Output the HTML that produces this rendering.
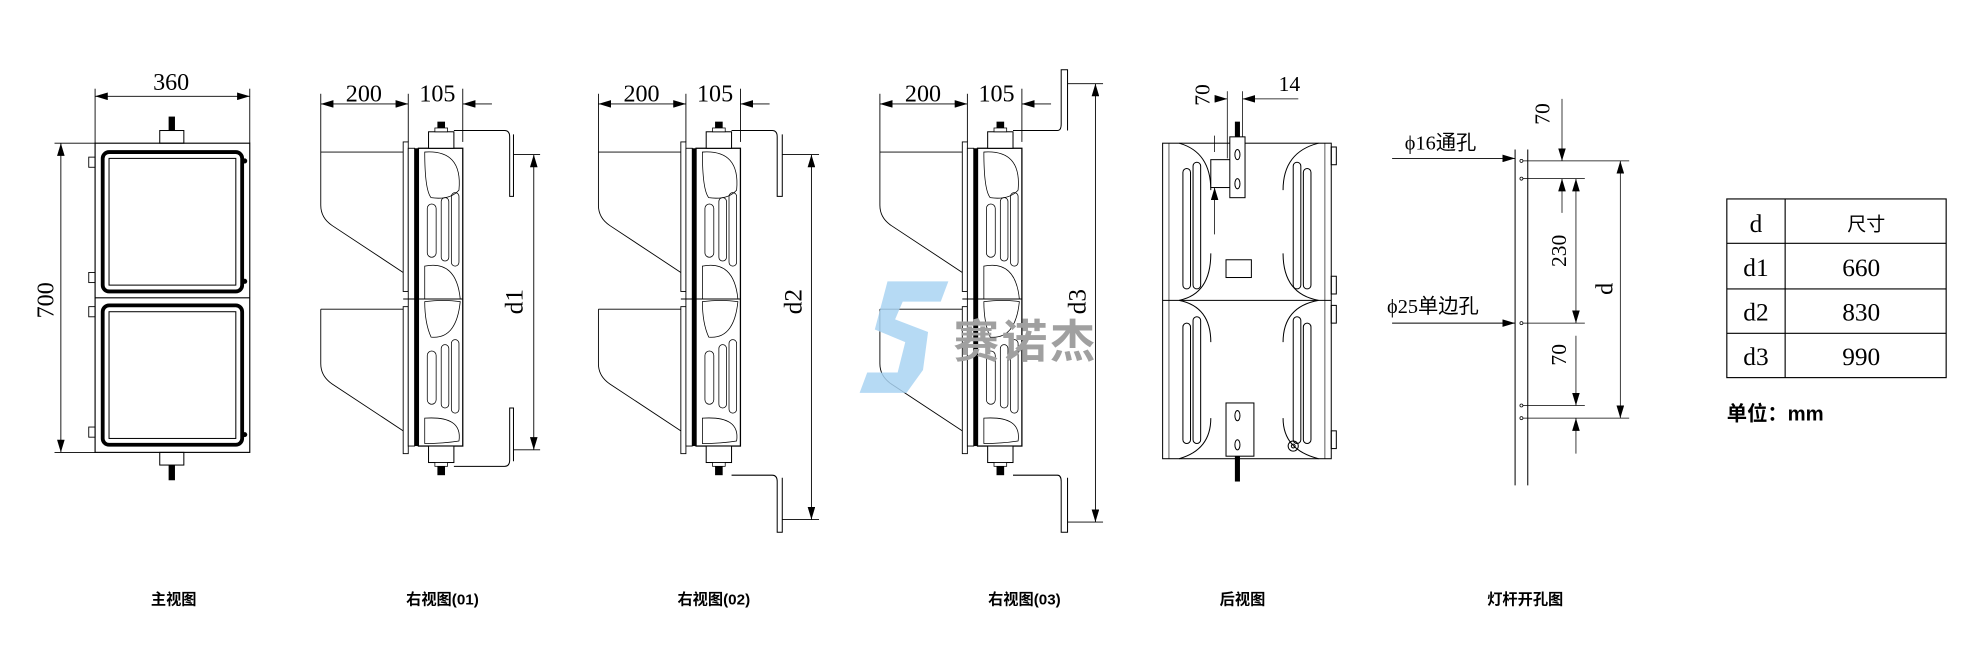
<!DOCTYPE html>
<html><head><meta charset="utf-8"><style>
html,body{margin:0;padding:0;background:#fff;width:1988px;height:664px;overflow:hidden}
svg{display:block}
text{font-family:"Liberation Serif","Noto Serif CJK SC",serif;fill:#000}
.c{font-family:"Liberation Sans","Noto Sans CJK SC",sans-serif;font-weight:bold}
</style></head><body>
<svg width="1988" height="664" viewBox="0 0 1568 524" preserveAspectRatio="none" xmlns="http://www.w3.org/2000/svg">
<defs>
<marker id="a" viewBox="0 0 10 6" refX="10" refY="3" markerWidth="10" markerHeight="6" orient="auto-start-reverse" markerUnits="userSpaceOnUse"><path d="M0,0L10,3L0,6z" fill="#000"/></marker>
<g id="side">
 <!-- dims -->
 <line x1="253" y1="74" x2="253" y2="120" stroke="#000" stroke-width="0.7"/>
 <line x1="322" y1="74" x2="322" y2="112" stroke="#000" stroke-width="0.7"/>
 <line x1="365" y1="70" x2="365" y2="112" stroke="#000" stroke-width="0.7"/>
 <line x1="253" y1="82" x2="322" y2="82" stroke="#000" stroke-width="0.7" marker-start="url(#a)" marker-end="url(#a)"/>
 <line x1="365" y1="82" x2="388" y2="82" stroke="#000" stroke-width="0.7" marker-start="url(#a)"/>
 <text x="287" y="80" font-size="19" text-anchor="middle">200</text>
 <text x="345" y="80" font-size="19" text-anchor="middle">105</text>
 <!-- hoods -->
 <path d="M253,120H318 M253,120V162Q253,172 262,178L318,215" fill="none" stroke="#000" stroke-width="0.7"/>
 <path d="M253,244H318 M253,244V287Q253,297 262,303L318,340" fill="none" stroke="#000" stroke-width="0.7"/>
 <!-- plates -->
 <rect x="318" y="112" width="4" height="118" fill="#fff" stroke="#000" stroke-width="0.7"/>
 <rect x="318" y="242" width="4" height="116" fill="#fff" stroke="#000" stroke-width="0.7"/>
 <rect x="322" y="117" width="5" height="235" fill="#fff" stroke="#000" stroke-width="0.7"/>
 <rect x="327" y="117" width="3" height="235" fill="#000"/>
 <rect x="330" y="117" width="35" height="235" fill="#fff" stroke="#000" stroke-width="1"/>
 <line x1="318" y1="236" x2="365" y2="236" stroke="#000" stroke-width="0.8"/>
 <!-- lobes -->
 <path d="M335,120Q365,118 362,150Q355,158 340,156Q335,150 335,120z" fill="none" stroke="#000" stroke-width="0.6"/>
 <path d="M335,210Q360,205 363,236Q350,236 335,236z M335,238Q350,236 363,238Q360,268 340,266Q335,255 335,238z" fill="none" stroke="#000" stroke-width="0.6"/>
 <path d="M335,330Q365,328 362,348Q350,350 335,350z" fill="none" stroke="#000" stroke-width="0.6"/>
 <rect x="337" y="161" width="7" height="42" rx="3.5" fill="none" stroke="#000" stroke-width="0.6"/>
 <rect x="348" y="156" width="6" height="50" rx="3" fill="none" stroke="#000" stroke-width="0.6"/>
 <rect x="356" y="152" width="6" height="58" rx="3" fill="none" stroke="#000" stroke-width="0.6"/>
 <rect x="337" y="277" width="7" height="42" rx="3.5" fill="none" stroke="#000" stroke-width="0.6"/>
 <rect x="348" y="272" width="6" height="50" rx="3" fill="none" stroke="#000" stroke-width="0.6"/>
 <rect x="356" y="268" width="6" height="58" rx="3" fill="none" stroke="#000" stroke-width="0.6"/>
 <!-- mounts -->
 <rect x="338" y="104" width="20" height="13" fill="#fff" stroke="#000" stroke-width="0.8"/>
 <rect x="345" y="96" width="6" height="8" fill="#000"/><rect x="343" y="101" width="10" height="3" fill="#fff" stroke="#000" stroke-width="0.6"/>
 <rect x="338" y="352" width="20" height="13" fill="#fff" stroke="#000" stroke-width="0.8"/>
 <rect x="345" y="365" width="6" height="10" fill="#000"/><rect x="343" y="365" width="10" height="3" fill="#fff" stroke="#000" stroke-width="0.6"/>
</g>
</defs>

<!-- FRONT VIEW -->
<g stroke="#000" fill="none">
 <line x1="75" y1="70" x2="75" y2="113" stroke-width="0.7"/>
 <line x1="197" y1="70" x2="197" y2="113" stroke-width="0.7"/>
 <line x1="75" y1="76" x2="197" y2="76" stroke-width="0.7" marker-start="url(#a)" marker-end="url(#a)"/>
 <line x1="43" y1="113" x2="75" y2="113" stroke-width="0.7"/>
 <line x1="43" y1="357" x2="75" y2="357" stroke-width="0.7"/>
 <line x1="48" y1="113" x2="48" y2="357" stroke-width="0.7" marker-start="url(#a)" marker-end="url(#a)"/>
 <rect x="75" y="113" width="122" height="244" stroke-width="0.9"/>
 <line x1="75" y1="235" x2="197" y2="235" stroke-width="0.9"/>
 <rect x="81" y="120" width="110" height="110" rx="5" stroke-width="3"/>
 <rect x="86" y="125" width="100" height="100" stroke-width="0.8"/>
 <rect x="81" y="241" width="110" height="110" rx="5" stroke-width="3"/>
 <rect x="86" y="246" width="100" height="100" stroke-width="0.8"/>
 <rect x="70" y="124" width="5" height="8" stroke-width="0.7"/><rect x="70" y="215" width="5" height="8" stroke-width="0.7"/>
 <rect x="70" y="242" width="5" height="8" stroke-width="0.7"/><rect x="70" y="337" width="5" height="8" stroke-width="0.7"/>
 <rect x="126" y="103" width="19" height="10" stroke-width="0.8"/>
 <rect x="126" y="357" width="19" height="10" stroke-width="0.8"/>
</g>
<circle cx="193" cy="127" r="2" fill="#000"/><circle cx="193" cy="222" r="2" fill="#000"/><circle cx="193" cy="343" r="2" fill="#000"/>
<rect x="133" y="92" width="5" height="11" fill="#000"/><rect x="133" y="367" width="5" height="12" fill="#000"/>
<text x="135" y="71" font-size="19" text-anchor="middle">360</text>
<text transform="translate(42,237) rotate(-90)" font-size="19" text-anchor="middle">700</text>

<!-- SIDE VIEWS -->
<use href="#side"/>
<use href="#side" x="219"/>
<use href="#side" x="441"/>
<g stroke="#000" fill="none" stroke-width="0.8">
 <!-- view1 bracket -->
 <path d="M358,103H398Q402,103 402,108V155H405V106"/>
 <path d="M358,368H398Q402,368 402,363V322H405V364"/>
 <line x1="405" y1="122" x2="426" y2="122" stroke-width="0.7"/>
 <line x1="405" y1="355" x2="426" y2="355" stroke-width="0.7"/>
 <line x1="421" y1="122" x2="421" y2="355" stroke-width="0.7" marker-start="url(#a)" marker-end="url(#a)"/>
 <!-- view2 -->
 <path d="M577,103H609Q613,103 613,108V155H617V106"/>
 <path d="M577,375H609Q613,375 613,380V420H617V377"/>
 <line x1="617" y1="122" x2="646" y2="122" stroke-width="0.7"/>
 <line x1="617" y1="410" x2="646" y2="410" stroke-width="0.7"/>
 <line x1="640" y1="122" x2="640" y2="410" stroke-width="0.7" marker-start="url(#a)" marker-end="url(#a)"/>
 <!-- view3 -->
 <path d="M799,103H834Q837,103 837,98V55H842V103"/>
 <path d="M799,375H834Q837,375 837,380V420H842V377"/>
 <line x1="842" y1="66" x2="870" y2="66" stroke-width="0.7"/>
 <line x1="842" y1="412" x2="870" y2="412" stroke-width="0.7"/>
 <line x1="864" y1="66" x2="864" y2="412" stroke-width="0.7" marker-start="url(#a)" marker-end="url(#a)"/>
</g>
<text transform="translate(412,238) rotate(-90)" font-size="20" text-anchor="middle">d1</text>
<text transform="translate(632,238) rotate(-90)" font-size="20" text-anchor="middle">d2</text>
<text transform="translate(856,238) rotate(-90)" font-size="20" text-anchor="middle">d3</text>

<!-- WATERMARK -->
<path d="M700,222H748L742,238H712L706,252L732,262L728,292L715,310H678L684,294H708L714,270L690,260Z" fill="#a9d3f2" opacity="0.85"/>
<text x="752" y="282" font-size="36" class="c" fill="#9a9a9a" style="fill:#a0a0a0;letter-spacing:2px">赛诺杰</text>

<!-- BACK VIEW -->
<g stroke="#000" fill="none" stroke-width="0.8">
 <rect x="917" y="113" width="133" height="249"/>
 <line x1="917" y1="237" x2="1050" y2="237"/>
 <line x1="922" y1="113" x2="922" y2="362" stroke-width="0.5"/>
 <line x1="1045" y1="113" x2="1045" y2="362" stroke-width="0.5"/>
 <path d="M930,113Q955,120 955,150 M930,237Q955,232 955,200 M930,237Q955,242 955,270 M930,362Q955,355 955,330"/>
 <path d="M1040,113Q1012,120 1012,150 M1040,237Q1012,232 1012,200 M1040,237Q1012,242 1012,270 M1040,362Q1012,355 1012,330"/>
 <rect x="933" y="133" width="6" height="95" rx="3"/><rect x="941" y="128" width="6" height="100" rx="3"/>
 <rect x="1020" y="128" width="6" height="100" rx="3"/><rect x="1028" y="133" width="6" height="95" rx="3"/>
 <rect x="933" y="255" width="6" height="95" rx="3"/><rect x="941" y="250" width="6" height="100" rx="3"/>
 <rect x="1020" y="250" width="6" height="100" rx="3"/><rect x="1028" y="255" width="6" height="95" rx="3"/>
 <rect x="967" y="205" width="20" height="14"/>
 <rect x="1050" y="116" width="4" height="14"/><rect x="1050" y="218" width="4" height="14"/><rect x="1050" y="241" width="4" height="14"/><rect x="1050" y="340" width="4" height="14"/>
 <rect x="955" y="126" width="25" height="22" fill="#fff"/>
 <rect x="970" y="108" width="12" height="48" fill="#fff"/>
 <ellipse cx="976" cy="122" rx="2" ry="4"/><ellipse cx="976" cy="145" rx="2" ry="4"/>
 <rect x="967" y="318" width="22" height="42" fill="#fff"/>
 <ellipse cx="976" cy="328" rx="2" ry="4"/><ellipse cx="976" cy="351" rx="2" ry="4"/>
 <circle cx="1020" cy="352" r="4"/><circle cx="1020" cy="352" r="1.5"/>
 <line x1="968" y1="72" x2="968" y2="125" stroke-width="0.6"/>
 <line x1="980" y1="72" x2="980" y2="108" stroke-width="0.6"/>
 <line x1="958" y1="78" x2="968" y2="78" stroke-width="0.6" marker-end="url(#a)"/>
 <line x1="1024" y1="78" x2="980" y2="78" stroke-width="0.6" marker-end="url(#a)"/>
 <line x1="958" y1="107" x2="958" y2="120" stroke-width="0.6"/>
 <line x1="958" y1="185" x2="958" y2="148" stroke-width="0.6" marker-end="url(#a)"/>
</g>
<rect x="974" y="96" width="4" height="12" fill="#000"/><rect x="974" y="360" width="4" height="20" fill="#000"/>
<text transform="translate(954,75) rotate(-90)" font-size="17" text-anchor="middle">70</text>
<text x="1017" y="72" font-size="17" text-anchor="middle">14</text>

<!-- POLE -->
<g stroke="#000" fill="none" stroke-width="0.8">
 <path d="M1195,118V383 M1205,118V383"/>
 <line x1="1098" y1="125" x2="1195" y2="125" stroke-width="0.7" marker-end="url(#a)"/>
 <line x1="1098" y1="255" x2="1195" y2="255" stroke-width="0.7" marker-end="url(#a)"/>
 <line x1="1201" y1="127" x2="1285" y2="127" stroke-width="0.6"/>
 <line x1="1201" y1="330" x2="1285" y2="330" stroke-width="0.6"/>
 <line x1="1201" y1="141" x2="1250" y2="141" stroke-width="0.6"/>
 <line x1="1201" y1="255" x2="1250" y2="255" stroke-width="0.6"/>
 <line x1="1201" y1="320" x2="1250" y2="320" stroke-width="0.6"/>
 <line x1="1232" y1="78" x2="1232" y2="127" stroke-width="0.6" marker-end="url(#a)"/>
 <line x1="1232" y1="168" x2="1232" y2="141" stroke-width="0.6" marker-end="url(#a)"/>
 <line x1="1243" y1="141" x2="1243" y2="255" stroke-width="0.6" marker-start="url(#a)" marker-end="url(#a)"/>
 <line x1="1243" y1="265" x2="1243" y2="320" stroke-width="0.6" marker-end="url(#a)"/>
 <line x1="1243" y1="358" x2="1243" y2="330" stroke-width="0.6" marker-end="url(#a)"/>
 <line x1="1278" y1="127" x2="1278" y2="330" stroke-width="0.6" marker-start="url(#a)" marker-end="url(#a)"/>
</g>
<g fill="#fff" stroke="#000" stroke-width="0.6"><circle cx="1200" cy="127" r="1.2"/><circle cx="1200" cy="141" r="1.2"/><circle cx="1200" cy="255" r="1.2"/><circle cx="1200" cy="320" r="1.2"/><circle cx="1200" cy="330" r="1.2"/></g>
<text x="1108" y="118" font-size="16" style="font-family:'Liberation Serif','Noto Sans CJK SC',serif">ϕ16通孔</text>
<text x="1094" y="247" font-size="16" style="font-family:'Liberation Serif','Noto Sans CJK SC',serif">ϕ25单边孔</text>
<text transform="translate(1222,90) rotate(-90)" font-size="17" text-anchor="middle">70</text>
<text transform="translate(1235,198) rotate(-90)" font-size="17" text-anchor="middle">230</text>
<text transform="translate(1235,280) rotate(-90)" font-size="17" text-anchor="middle">70</text>
<text transform="translate(1272,228) rotate(-90)" font-size="19" text-anchor="middle">d</text>

<!-- TABLE -->
<g stroke="#000" stroke-width="0.9" fill="none">
 <rect x="1362" y="157" width="173" height="141"/>
 <line x1="1408" y1="157" x2="1408" y2="298"/>
 <line x1="1362" y1="192" x2="1535" y2="192"/><line x1="1362" y1="228" x2="1535" y2="228"/><line x1="1362" y1="263" x2="1535" y2="263"/>
</g>
<text x="1385" y="183" font-size="20" text-anchor="middle">d</text>
<text x="1472" y="182" font-size="15" text-anchor="middle" style="font-family:'Noto Sans CJK SC',sans-serif">尺寸</text>
<text x="1385" y="218" font-size="20" text-anchor="middle">d1</text><text x="1468" y="218" font-size="20" text-anchor="middle">660</text>
<text x="1385" y="253" font-size="20" text-anchor="middle">d2</text><text x="1468" y="253" font-size="20" text-anchor="middle">830</text>
<text x="1385" y="288" font-size="20" text-anchor="middle">d3</text><text x="1468" y="288" font-size="20" text-anchor="middle">990</text>
<text x="1362" y="332" font-size="16" class="c">单位：mm</text>

<!-- CAPTIONS -->
<g font-size="12" text-anchor="middle" class="c">
<text x="137" y="477" class="c">主视图</text>
<text x="349" y="477" class="c">右视图(01)</text>
<text x="563" y="477" class="c">右视图(02)</text>
<text x="808" y="477" class="c">右视图(03)</text>
<text x="980" y="477" class="c">后视图</text>
<text x="1203" y="477" class="c">灯杆开孔图</text>
</g>
</svg>
</body></html>
